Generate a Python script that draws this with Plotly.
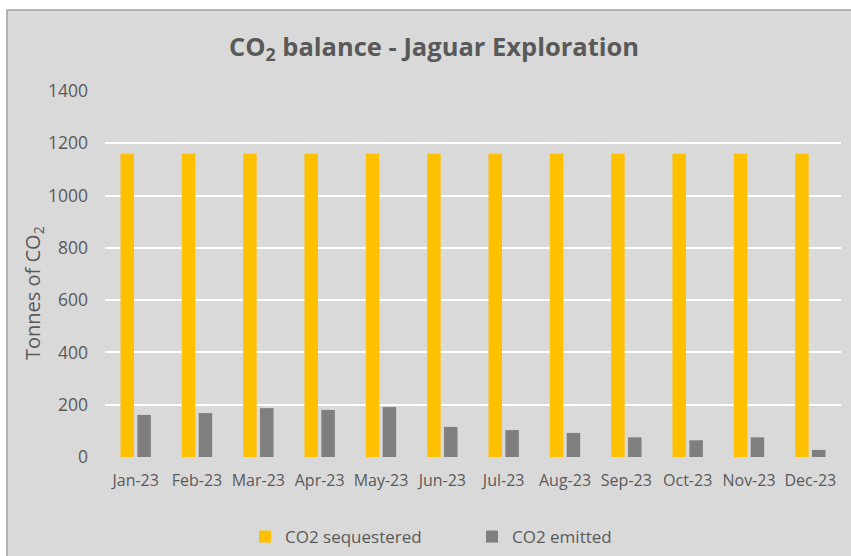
import plotly.graph_objects as go

months = ["Jan-23", "Feb-23", "Mar-23", "Apr-23", "May-23", "Jun-23",
          "Jul-23", "Aug-23", "Sep-23", "Oct-23", "Nov-23", "Dec-23"]
sequestered = [1160] * 12
emitted = [161, 168, 187, 180, 191, 115, 103, 92, 75, 64, 75, 27]
y_ticks = [0, 200, 400, 600, 800, 1000, 1200, 1400]

W, H = 851, 556
L, R, T, B = 105, 10, 91, 99
pw, ph = W - L - R, H - T - B

def px_x(x):
    return (x - L) / pw

def px_y(y):
    return (H - B - y) / ph

FONT = "'Open Sans', sans-serif"
TXT = "#595959"
BG = "#d9d9d9"

fig = go.Figure()
fig.add_trace(go.Bar(x=months, y=sequestered, name="CO2 sequestered",
                     marker=dict(color="#FFC000", line=dict(width=0))))
fig.add_trace(go.Bar(x=months, y=emitted, name="CO2 emitted",
                     marker=dict(color="#7F7F7F", line=dict(width=0))))

fig.update_layout(
    width=W, height=H,
    margin=dict(l=L, r=R, t=T, b=B, autoexpand=False),
    paper_bgcolor="white",
    plot_bgcolor="rgba(0,0,0,0)",
    barmode="group", bargap=0.45, bargroupgap=0.2,
    font=dict(family=FONT, color=TXT, size=16),
    title=dict(text="<b>CO<sub>2</sub> balance - Jaguar Exploration</b>",
               font=dict(family=FONT, size=25.5, color=TXT),
               x=434 / W, xanchor="center", xref="container",
               y=1 - 47 / H, yanchor="middle", yref="container"),
    showlegend=True,
    legend=dict(orientation="h", x=px_x(472), xanchor="center",
                y=px_y(537), yanchor="middle", bgcolor="rgba(0,0,0,0)",
                font=dict(size=17, color=TXT), itemwidth=30,
                entrywidth=182, traceorder="normal"),
    shapes=[dict(type="rect", xref="paper", yref="paper", layer="below",
                 x0=px_x(7), x1=px_x(870), y0=px_y(10), y1=px_y(580),
                 fillcolor=BG, line=dict(color="#a0a0a0", width=1.5))],
    annotations=[dict(text="Tonnes of CO<sub>2</sub>", textangle=-90,
                      xref="paper", yref="paper", x=px_x(33), y=px_y(293),
                      xanchor="center", yanchor="middle", showarrow=False,
                      font=dict(size=20, color=TXT))],
)
fig.update_yaxes(range=[0, 1400], tickvals=y_ticks, showgrid=True,
                 gridcolor="white", gridwidth=1.5, zeroline=True,
                 zerolinecolor=BG, zerolinewidth=2, showline=False,
                 ticks="", ticklabelstandoff=16, tickfont=dict(size=17.5, color=TXT))
fig.update_xaxes(showgrid=False, showline=False, ticks="",
                 ticklabelstandoff=12, tickfont=dict(size=16, color=TXT))

fig.write_html("out.html", config={"displayModeBar": False},
               post_script="document.body.style.margin='0';document.body.style.overflow='hidden';")
